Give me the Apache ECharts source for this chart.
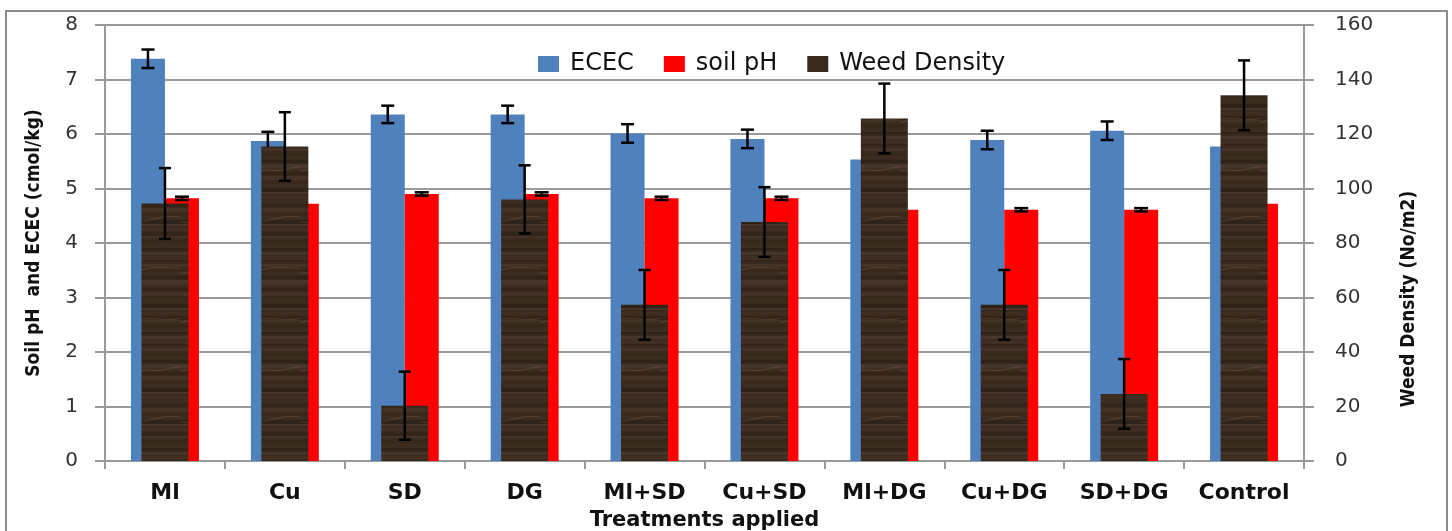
<!DOCTYPE html>
<html><head><meta charset="utf-8">
<script src="https://cdn.jsdelivr.net/npm/echarts@6/dist/echarts.min.js"></script>
<style>html,body{margin:0;padding:0;background:#fff}#c{width:1452px;height:531px}</style>
</head><body><div id="c"></div>
<script>
var categories = ['Ml','Cu','SD','DG','Ml+SD','Cu+SD','Ml+DG','Cu+DG','SD+DG','Control'];
var ecec = [7.38, 5.87, 6.36, 6.36, 6.01, 5.91, 5.53, 5.89, 6.06, 5.77];
var ececErr = [0.17, 0.17, 0.16, 0.16, 0.17, 0.17, null, 0.17, 0.17, null];
var soilPH = [4.82, 4.72, 4.90, 4.90, 4.82, 4.82, 4.61, 4.61, 4.61, 4.72];
var soilPHErr = [0.03, null, 0.03, 0.03, 0.03, 0.03, null, 0.03, 0.03, null];
var weed = [94.5, 115.4, 20.3, 96.0, 57.3, 87.7, 125.7, 57.3, 24.6, 134.2];
var weedErr = [13, 12.6, 12.5, 12.5, 12.8, 12.8, 12.8, 12.8, 12.8, 12.8];
var leftTicks = [0,1,2,3,4,5,6,7,8];
var rightTicks = [0,20,40,60,80,100,120,140,160];

// wood texture for weed bars
var tex = document.createElement('canvas');
tex.width = 60; tex.height = 200;
var g = tex.getContext('2d');
g.fillStyle = '#3a2a1e'; g.fillRect(0,0,60,200);
var shades = ['#3f2e21','#33251a','#443226','#37281c','#3d2c20','#2f2218','#46352a'];
for (var i = 0; i < 50; i++) {
  g.fillStyle = shades[i % shades.length];
  g.fillRect(0, i*4, 60, (i % 3) + 2);
}
g.strokeStyle = 'rgba(140,115,80,0.28)'; g.lineWidth = 1.2;
for (var k = 0; k < 4; k++) {
  g.beginPath();
  var y0 = 22 + k*50;
  g.moveTo(0, y0);
  for (var x = 0; x <= 60; x += 5) g.lineTo(x, y0 - x*0.08 + 1.5*Math.sin((x + k*13)/10));
  g.stroke();
}

var BW = 34, WW = 47;

function errData(vals, errs){
  var out = [];
  for (var i=0;i<vals.length;i++){
    if (errs[i] != null) out.push([i, vals[i]-errs[i], vals[i]+errs[i]]);
  }
  return out;
}
function errRender(offset, half){
  return function(params, api){
    var idx = api.value(0);
    var lo = api.coord([idx, api.value(1)]);
    var hi = api.coord([idx, api.value(2)]);
    var x = lo[0] + offset;
    var st = {stroke:'#000', lineWidth:2.5};
    return {type:'group', children:[
      {type:'line', shape:{x1:x,y1:lo[1],x2:x,y2:hi[1]}, style:st},
      {type:'line', shape:{x1:x-half,y1:lo[1],x2:x+half,y2:lo[1]}, style:st},
      {type:'line', shape:{x1:x-half,y1:hi[1],x2:x+half,y2:hi[1]}, style:st}
    ]};
  };
}

var chart = echarts.init(document.getElementById('c'), null, {renderer:'canvas'});
var gray = '#9a9a9a';
var nameFont = '"DejaVu Sans Condensed", "DejaVu Sans", sans-serif';
var option = {
  animation:false,
  backgroundColor:'#fff',
  grid:{left:105, right:148, top:25, bottom:70, containLabel:false, outerBoundsMode:'none'},
  legend:{
    left:533, top:47, itemWidth:21, itemHeight:16, itemGap:30,
    textStyle:{fontFamily:'DejaVu Sans', fontSize:24, color:'#111', padding:[0,0,0,6]},
    data:[
      {name:'ECEC', icon:'rect'},
      {name:'soil pH', icon:'rect'},
      {name:'Weed Density', icon:'rect', itemStyle:{color:'#3a2a1d'}}
    ]
  },
  xAxis:[{
    type:'category', data:categories,
    axisLine:{lineStyle:{color:gray, width:2}},
    axisTick:{show:true, interval:0, length:8, lineStyle:{color:gray, width:2}},
    axisLabel:{interval:0, hideOverlap:false, fontFamily:'DejaVu Sans', fontWeight:'bold', fontSize:22, color:'#111', margin:21},
    name:'Treatments applied', nameLocation:'middle', nameGap:49,
    nameTextStyle:{fontFamily:'DejaVu Sans', fontWeight:'bold', fontSize:21, color:'#111'}
  },{
    type:'category', data:categories, show:false
  }],
  yAxis:[{
    type:'value', min:0, max:8, interval:1,
    axisLine:{show:true, lineStyle:{color:gray, width:2}},
    axisTick:{show:true, length:10, lineStyle:{color:gray, width:2}},
    splitLine:{lineStyle:{color:gray, width:2}},
    axisLabel:{fontFamily:'DejaVu Sans', fontSize:20, color:'#333', margin:27,
      formatter:function(v){return leftTicks.indexOf(v)>=0?String(v):'';}},
    name:'Soil pH  and ECEC (cmol/kg)', nameLocation:'middle', nameGap:61, nameRotate:90,
    nameTextStyle:{fontFamily:nameFont, fontWeight:'bold', fontSize:19, color:'#111'}
  },{
    type:'value', min:0, max:160, interval:20,
    axisLine:{show:true, lineStyle:{color:gray, width:2}},
    axisTick:{show:true, length:10, lineStyle:{color:gray, width:2}},
    splitLine:{show:false},
    axisLabel:{fontFamily:'DejaVu Sans', fontSize:20, color:'#333', margin:31,
      formatter:function(v){return rightTicks.indexOf(v)>=0?String(v):'';}}
  }],
  graphic:[
    {type:'rect', shape:{x:6, y:11, width:1441, height:540}, style:{fill:null, stroke:'#8c8c8c', lineWidth:2}, z:-1},
    {type:'text', x:1409, y:299, rotation:Math.PI/2,
      style:{text:'Weed Density (No/m2)', font:'bold 19px ' + nameFont, fill:'#111', textAlign:'center', textVerticalAlign:'middle'}}
  ],
  series:[
    {name:'ECEC', type:'bar', data:ecec, barWidth:BW, barGap:'0%', itemStyle:{color:'#4f81bd'}, z:2},
    {name:'soil pH', type:'bar', data:soilPH, barWidth:BW, barGap:'0%', itemStyle:{color:'#ff0000'}, z:2},
    {name:'ECEC err', type:'custom', data:errData(ecec, ececErr), renderItem:errRender(-BW/2, 6.5), z:3},
    {name:'pH err', type:'custom', data:errData(soilPH, soilPHErr), renderItem:errRender(BW/2, 7), z:3},
    {name:'Weed Density', type:'bar', xAxisIndex:1, yAxisIndex:1, data:weed, barWidth:WW,
      itemStyle:{color:{image:tex, repeat:'repeat'}}, z:4},
    {name:'Weed err', type:'custom', xAxisIndex:1, yAxisIndex:1, data:errData(weed, weedErr), renderItem:errRender(0, 6), z:5}
  ]
};
chart.setOption(option);
</script></body></html>
